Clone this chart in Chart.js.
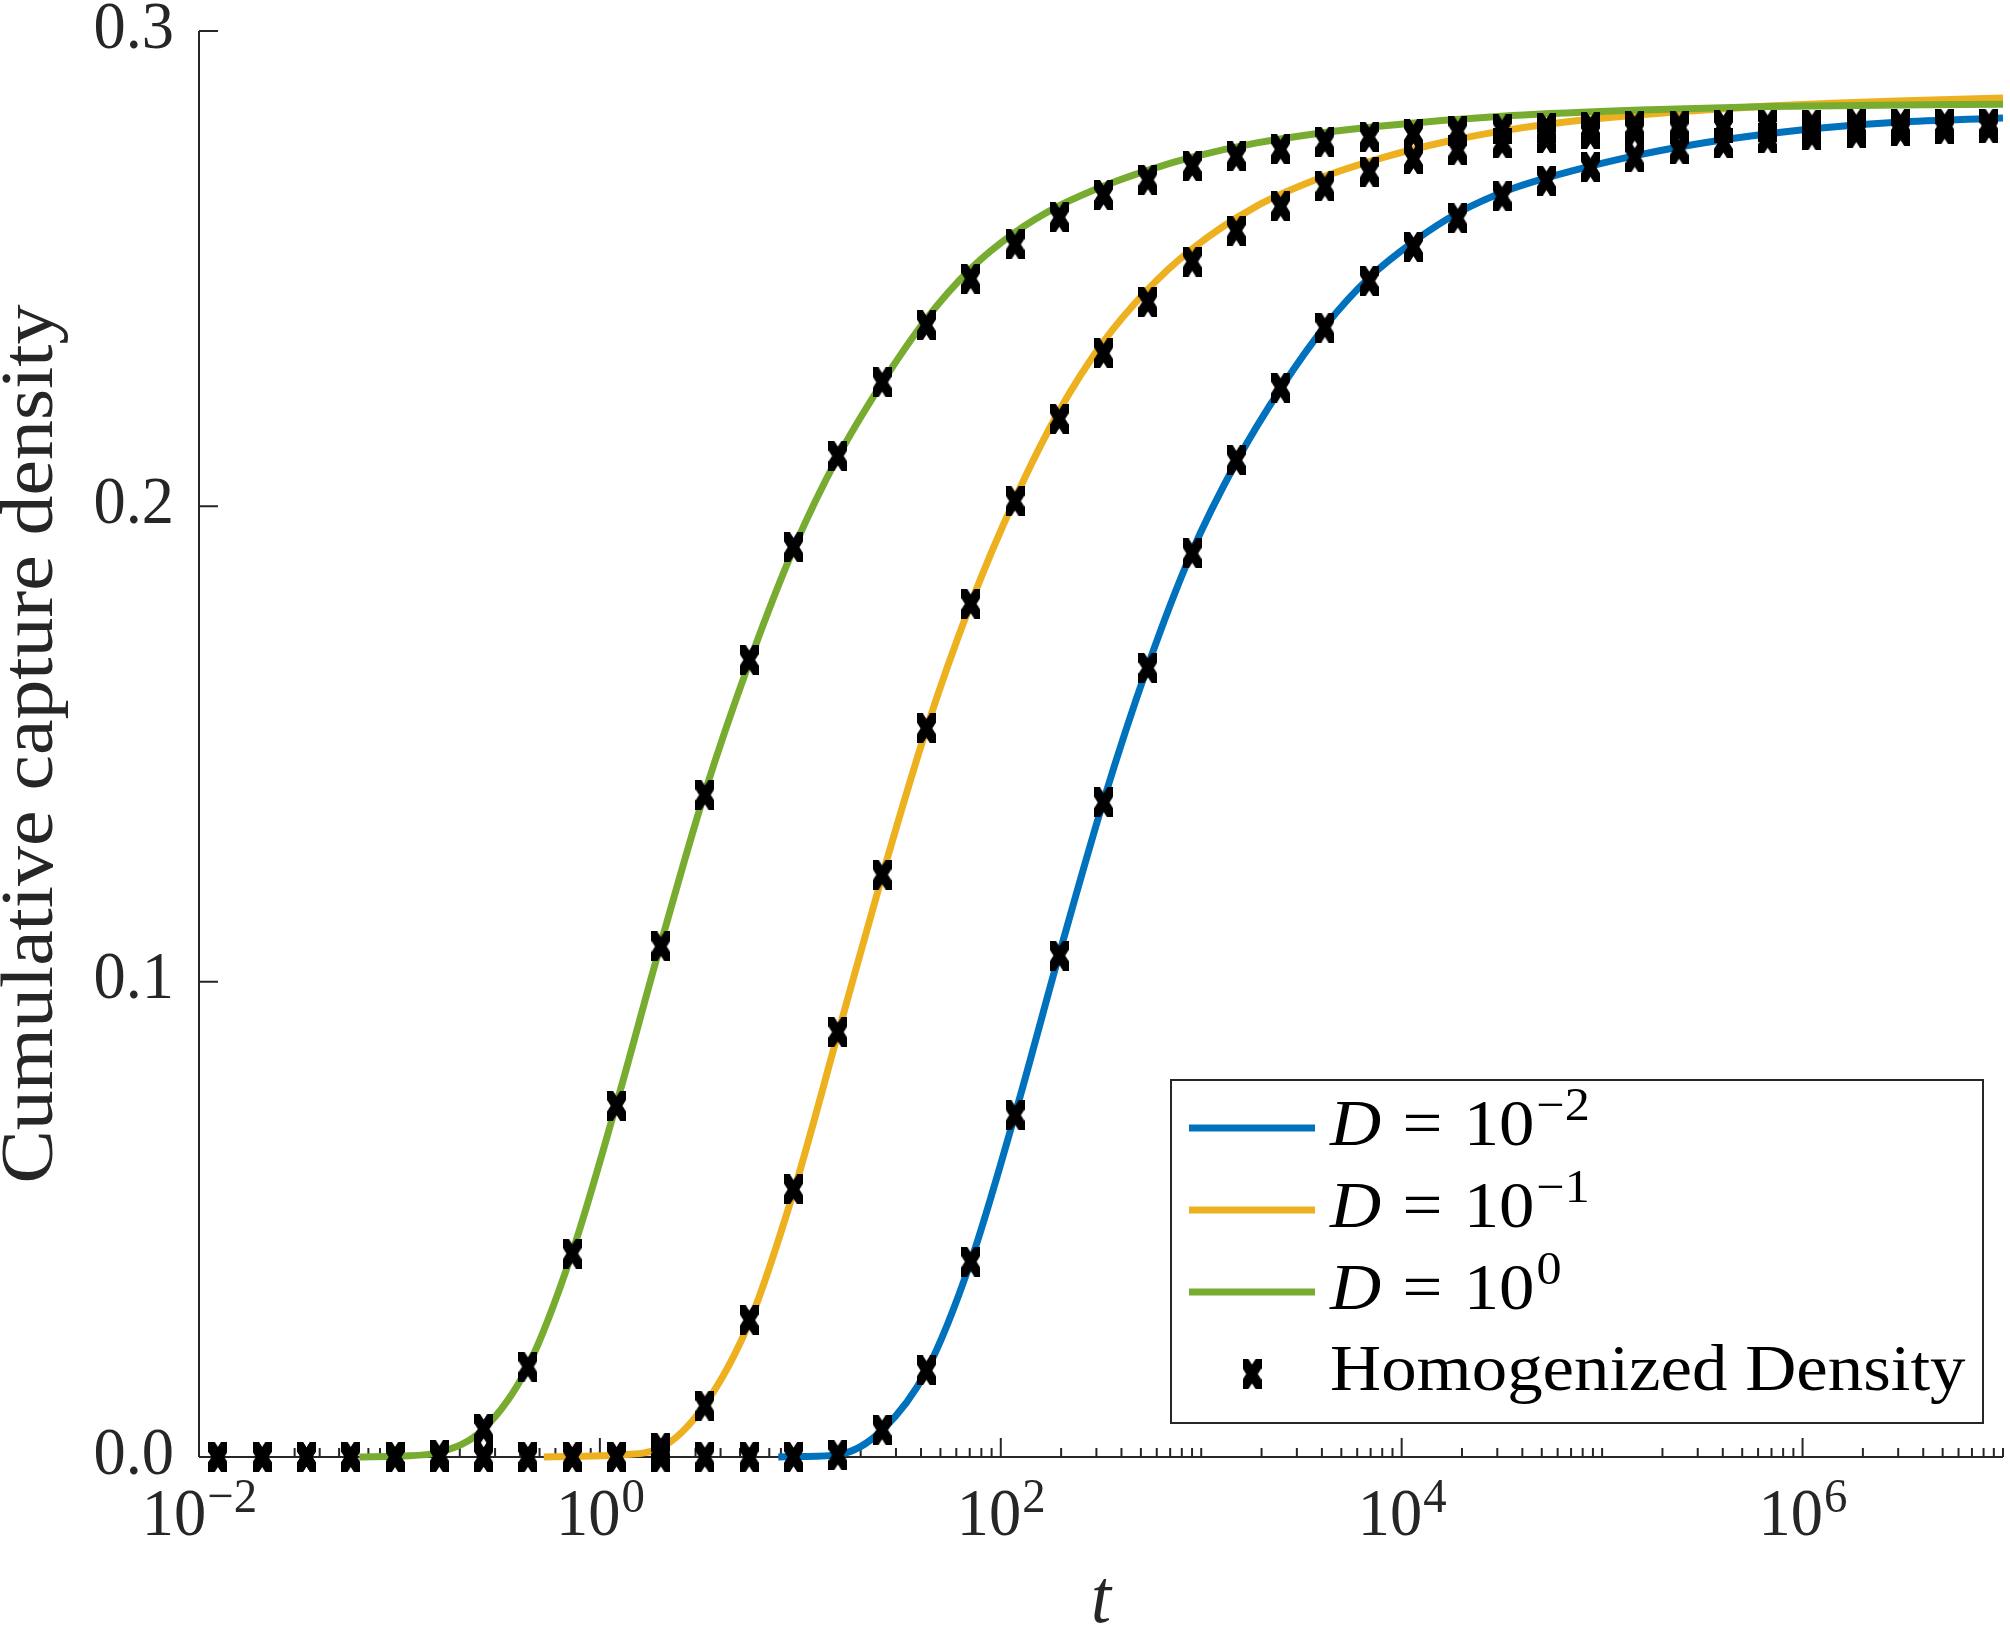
<!DOCTYPE html>
<html>
<head>
<meta charset="utf-8">
<script src="https://cdn.jsdelivr.net/npm/chart.js@4.4.1/dist/chart.umd.min.js"></script>
<style>
  html, body { margin: 0; padding: 0; background: #fff; }
  canvas { display: block; }
</style>
</head>
<body>
<canvas id="chart" width="2010" height="1626"></canvas>
<script>
// log10(t) of the homogenized-density sample times (same grid for every D)
const markerLogT = [-1.906, -1.685, -1.464, -1.243, -1.022, -0.801, -0.580, -0.359, -0.138, 0.083,
  0.304, 0.524, 0.745, 0.966, 1.187, 1.408, 1.629, 1.850, 2.071, 2.292,
  2.513, 2.734, 2.955, 3.175, 3.396, 3.617, 3.838, 4.059, 4.280, 4.501,
  4.722, 4.942, 5.163, 5.384, 5.605, 5.826, 6.047, 6.268, 6.489, 6.709, 6.930];

const homogBlue = [0, 0, 0, 0, 0, 0, 0, 0, 0, 0,
  0, 0, 0, 0, 0.0004, 0.0057, 0.0182, 0.0411, 0.0719, 0.1055,
  0.1377, 0.1660, 0.1901, 0.2097, 0.2250, 0.2376, 0.2474, 0.2546, 0.2606, 0.2652,
  0.2685, 0.2713, 0.2734, 0.2751, 0.2764, 0.2774, 0.2781, 0.2786, 0.2790, 0.2793, 0.2796];
const homogOrange = [0, 0, 0, 0, 0, 0, 0, 0, 0, 0.0001,
  0.0019, 0.0108, 0.0288, 0.0563, 0.0894, 0.1225, 0.1533, 0.1795, 0.2011, 0.2184,
  0.2322, 0.2430, 0.2515, 0.2580, 0.2631, 0.2673, 0.2704, 0.2731, 0.2749, 0.2764,
  0.2775, 0.2783, 0.2789, 0.2793, 0.2796, 0.2798, 0.2800, 0.2801, 0.2802, 0.2803, 0.2803];
const homogGreen = [0, 0, 0, 0, 0, 0.0004, 0.0059, 0.0190, 0.0428, 0.0739,
  0.1074, 0.1393, 0.1677, 0.1914, 0.2106, 0.2261, 0.2381, 0.2479, 0.2551, 0.2608,
  0.2655, 0.2687, 0.2716, 0.2736, 0.2751, 0.2767, 0.2777, 0.2783, 0.2789, 0.2793,
  0.2796, 0.2798, 0.2800, 0.2801, 0.2802, 0.2803, 0.2803, 0.2804, 0.2804, 0.2805, 0.2805];

// full model curves, log10(t) and capture density
const blueLogT = [0.89, 1.00, 1.19, 1.41, 1.63, 1.85, 2.07, 2.29, 2.51, 2.73, 2.95, 3.18, 3.40,
  3.62, 3.84, 4.06, 4.28, 4.55, 4.87, 5.19, 5.51, 5.83, 6.15, 6.47, 7.00];
const blueVals = [0, 0.0001, 0.0005, 0.0057, 0.0182, 0.0411, 0.0719, 0.1055, 0.1377, 0.1660, 0.1901, 0.2097, 0.2250,
  0.2380, 0.2482, 0.2557, 0.2617, 0.2668, 0.2708, 0.2740, 0.2765, 0.2784, 0.2798, 0.2808, 0.2817];

const orangeLogT = [-0.28, -0.14, 0.08, 0.30, 0.52, 0.75, 0.97, 1.19, 1.41, 1.63, 1.85, 2.07, 2.29, 2.51,
  2.73, 2.95, 3.27, 3.59, 3.91, 4.23, 4.55, 4.87, 5.19, 5.51, 5.83, 6.15, 6.47, 7.00];
const orangeVals = [0, 0.0001, 0.0004, 0.0019, 0.0108, 0.0288, 0.0563, 0.0894, 0.1225, 0.1533, 0.1795, 0.2015, 0.2200, 0.2345,
  0.2455, 0.2540, 0.2630, 0.2690, 0.2734, 0.2768, 0.2793, 0.2811, 0.2824, 0.2834, 0.2842, 0.2848, 0.2853, 0.2859];

const greenLogT = [-1.20, -1.00, -0.80, -0.58, -0.36, -0.14, 0.08, 0.30, 0.52, 0.75, 0.97, 1.19, 1.41,
  1.63, 1.85, 2.07, 2.30, 2.52, 2.74, 2.96, 3.27, 3.59, 3.90, 4.55, 5.19, 5.83, 7.00];
const greenVals = [0, 0.0002, 0.0010, 0.0059, 0.0190, 0.0428, 0.0739, 0.1074, 0.1393, 0.1677, 0.1914, 0.2106, 0.2261,
  0.2395, 0.2500, 0.2576, 0.2634, 0.2675, 0.2708, 0.2735, 0.2764, 0.2785, 0.2800, 0.2822, 0.2834, 0.2841, 0.2846];

const seriesExp = ['−2', '−1', '0'];
const seriesColors = ['#0072BD', '#EDB120', '#77AC30'];
const yTicks = [0, 0.1, 0.2, 0.3];
const yTickLabels = ['0.0', '0.1', '0.2', '0.3'];
const xLabelExp = [-2, 0, 2, 4, 6];
const xLabelText = ['−2', '0', '2', '4', '6'];

const AX = '#262626';
const SERIF = '"Liberation Serif", "Times New Roman", serif';

function toPoints(logT, vals) {
  return logT.map((e, i) => ({ x: Math.pow(10, e), y: vals[i] }));
}

// black "x" marker, drawn thick and clipped to its box like the original
function makeMarker() {
  const w = 19, h = 30;
  const c = document.createElement('canvas');
  c.width = w; c.height = h;
  const g = c.getContext('2d');
  g.beginPath(); g.rect(0, 0, w, h); g.clip();
  g.strokeStyle = '#000';
  g.lineWidth = 10;
  g.beginPath();
  g.moveTo(-w * 0.2, -h * 0.2); g.lineTo(w * 1.2, h * 1.2);
  g.moveTo(w * 1.2, -h * 0.2); g.lineTo(-w * 0.2, h * 1.2);
  g.stroke();
  return c;
}
const marker = makeMarker();

function drawText(ctx, s, x, y, font, sx, sy, align) {
  ctx.save();
  ctx.translate(x, y);
  ctx.scale(sx, sy);
  ctx.font = font;
  ctx.textAlign = align || 'left';
  ctx.textBaseline = 'alphabetic';
  ctx.fillText(s, 0, 0);
  ctx.restore();
}
function textWidth(ctx, s, font, sx) {
  ctx.save();
  ctx.font = font;
  const w = ctx.measureText(s).width * sx;
  ctx.restore();
  return w;
}

const axesPlugin = {
  id: 'matlabAxes',
  beforeDatasetsDraw(chart) {
    const ctx = chart.ctx;
    const xs = chart.scales.x, ys = chart.scales.y;
    const a = chart.chartArea;
    ctx.save();
    ctx.strokeStyle = AX;
    ctx.lineWidth = 2;
    ctx.beginPath();
    ctx.moveTo(a.left, a.top); ctx.lineTo(a.left, a.bottom);
    ctx.moveTo(a.left, a.bottom); ctx.lineTo(a.right, a.bottom);
    // y ticks, pointing inward
    yTicks.forEach(v => {
      const py = ys.getPixelForValue(v);
      ctx.moveTo(a.left, py); ctx.lineTo(a.left + 19, py);
    });
    // x ticks: labelled decades long, the rest short
    for (let n = -2; n <= 7; n++) {
      for (let k = 1; k <= 9; k++) {
        const v = k * Math.pow(10, n);
        if (v > 1e7 * 1.0001) break;
        const px = xs.getPixelForValue(v);
        const major = (k === 1 && xLabelExp.indexOf(n) >= 0);
        ctx.moveTo(px, a.bottom); ctx.lineTo(px, a.bottom - (major ? 19 : 9));
      }
    }
    ctx.stroke();

    ctx.fillStyle = AX;
    const F = 62, sx = 1.04, sy = 1.08;
    const f = F + 'px ' + SERIF;
    yTicks.forEach((v, i) => {
      drawText(ctx, yTickLabels[i], 174, ys.getPixelForValue(v) + 16.5, f, sx, sy, 'right');
    });
    const fs = '45px ' + SERIF;
    xLabelExp.forEach((n, i) => {
      const cx = xs.getPixelForValue(Math.pow(10, n));
      const wb = textWidth(ctx, '10', f, sx);
      const we = textWidth(ctx, xLabelText[i], fs, sx);
      const start = cx - (wb + we) / 2;
      drawText(ctx, '10', start, 1535, f, sx, sy, 'left');
      drawText(ctx, xLabelText[i], start + wb + 1, 1512, fs, sx, sy, 'left');
    });
    // axis titles
    drawText(ctx, 't', (a.left + a.right) / 2, 1622, 'italic 72px ' + SERIF, 1.0, 1.05, 'center');
    ctx.save();
    ctx.translate(52, (a.top + a.bottom) / 2);
    ctx.rotate(-Math.PI / 2);
    ctx.scale(1.08, 1.0);
    ctx.font = '74px ' + SERIF;
    ctx.textAlign = 'center';
    ctx.textBaseline = 'alphabetic';
    ctx.fillText('Cumulative capture density', 0, 0);
    ctx.restore();
    ctx.restore();
  }
};

const legendPlugin = {
  id: 'matlabLegend',
  afterDraw(chart) {
    const ctx = chart.ctx;
    const box = { l: 1171, t: 1080, r: 1983, b: 1423 };
    ctx.save();
    ctx.fillStyle = '#fff';
    ctx.fillRect(box.l, box.t, box.r - box.l, box.b - box.t);
    ctx.strokeStyle = AX;
    ctx.lineWidth = 2;
    ctx.strokeRect(box.l, box.t, box.r - box.l, box.b - box.t);

    const F = 65, sx = 1.09, sy = 1.0;
    const f = F + 'px ' + SERIF, fi = 'italic ' + F + 'px ' + SERIF, fs = '46px ' + SERIF;
    const gap = 0.3 * F * sx;
    const lineY = [1128, 1210, 1292];
    const baseY = [1145, 1227, 1309];
    ctx.fillStyle = '#000';
    seriesColors.forEach((col, i) => {
      ctx.strokeStyle = col;
      ctx.lineWidth = 7;
      ctx.beginPath();
      ctx.moveTo(1189, lineY[i]); ctx.lineTo(1315, lineY[i]);
      ctx.stroke();
      let x = 1330;
      drawText(ctx, 'D', x, baseY[i], fi, sx, sy);
      x += textWidth(ctx, 'D', fi, sx) + gap;
      drawText(ctx, '=', x, baseY[i], f, sx, sy);
      x += textWidth(ctx, '=', f, sx) + gap;
      drawText(ctx, '10', x, baseY[i], f, sx, sy);
      x += textWidth(ctx, '10', f, sx) + 2;
      drawText(ctx, seriesExp[i], x, baseY[i] - 25, fs, sx, sy);
    });
    ctx.drawImage(marker, 1252 - marker.width / 2, 1374 - marker.height / 2);
    drawText(ctx, 'Homogenized Density', 1330, 1390, f, sx, sy);
    ctx.restore();
  }
};

function lineSet(label, logT, vals, color, order) {
  return {
    label: label,
    data: toPoints(logT, vals),
    borderColor: color,
    backgroundColor: color,
    borderWidth: 7,
    pointRadius: 0,
    cubicInterpolationMode: 'monotone',
    fill: false,
    clip: false,
    order: order
  };
}
function markerSet(label, vals) {
  return {
    label: label,
    data: toPoints(markerLogT, vals),
    showLine: false,
    pointStyle: marker,
    pointRadius: 6,
    borderColor: '#000',
    backgroundColor: '#000',
    clip: false,
    order: 0
  };
}

new Chart(document.getElementById('chart').getContext('2d'), {
  type: 'line',
  data: {
    datasets: [
      lineSet('D = 10^-2', blueLogT, blueVals, seriesColors[0], 3),
      lineSet('D = 10^-1', orangeLogT, orangeVals, seriesColors[1], 2),
      lineSet('D = 10^0', greenLogT, greenVals, seriesColors[2], 1),
      markerSet('Homogenized Density', homogBlue),
      markerSet('Homogenized Density (D = 10^-1)', homogOrange),
      markerSet('Homogenized Density (D = 10^0)', homogGreen)
    ]
  },
  options: {
    responsive: false,
    animation: false,
    devicePixelRatio: 1,
    layout: { padding: { left: 199, right: 2, top: 31, bottom: 169 } },
    scales: {
      x: { type: 'logarithmic', min: 0.01, max: 1e7, display: false },
      y: { type: 'linear', min: 0, max: 0.3, display: false }
    },
    plugins: { legend: { display: false }, tooltip: { enabled: false } }
  },
  plugins: [axesPlugin, legendPlugin]
});
</script>
</body>
</html>
